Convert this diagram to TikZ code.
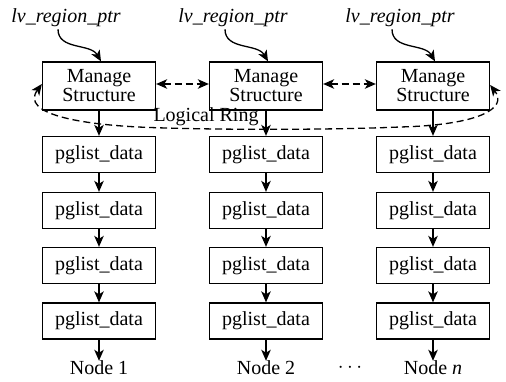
\documentclass[tikz,border=0pt]{standalone}
\usepackage{fontspec}
\setmainfont{Liberation Serif}
\usetikzlibrary{arrows.meta}
\begin{document}
\begin{tikzpicture}[x=1pt,y=-1pt,
  font=\fontsize{20}{22}\selectfont,
  box/.style={draw,line width=1.3pt,minimum width=113pt,inner sep=0pt,align=center},
  mgbox/.style={box,minimum height=48pt},
  pgbox/.style={box,minimum height=36pt},
  arr/.style={-{Stealth[length=11pt,width=9.5pt,inset=3pt]},line width=1.3pt},
  darr/.style={{Stealth[length=11pt,width=9.5pt,inset=3pt]}-{Stealth[length=11pt,width=9.5pt,inset=3pt]},line width=1.3pt,dash pattern=on 7pt off 4pt},
  lbl/.style={inner sep=0pt}]
\useasboundingbox (0,0) rectangle (506,382);
\foreach \i/\x/\lab in {1/99/1, 2/266/2, 3/433/\textit{n}}{
  \node[lbl] (lv\i) at (\x-33,18) {\textit{lv\_region\_ptr}};
  \node[mgbox] (m\i) at (\x,86) {Manage\\[-3pt]Structure};
  \node[pgbox] (p\i a) at (\x,154.5) {pglist\_data};
  \node[pgbox] (p\i b) at (\x,210.5) {pglist\_data};
  \node[pgbox] (p\i c) at (\x,265.5) {pglist\_data};
  \node[pgbox] (p\i d) at (\x,321) {pglist\_data};
  \node[lbl] (n\i) at (\x,368) {Node \lab};
  \draw[arr] ([xshift=-8pt,yshift=-2pt]lv\i.south) to[out=-90,in=120] ([xshift=2pt]m\i.north);
  \draw[arr] (m\i.south) -- (p\i a.north);
  \draw[arr] (p\i a.south) -- (p\i b.north);
  \draw[arr] (p\i b.south) -- (p\i c.north);
  \draw[arr] (p\i c.south) -- (p\i d.north);
  \draw[arr] (p\i d.south) -- (n\i.north);
}
\node[lbl] (dots) at (350,368) {$\cdots$};
\draw[darr] ([yshift=2pt]m1.east) -- ([yshift=2pt]m2.west);
\draw[darr] ([yshift=2pt]m2.east) -- ([yshift=2pt]m3.west);
\coordinate (r1) at (150,127.5);
\coordinate (r2) at (400,127);
\draw[darr] ([yshift=2pt]m1.west) .. controls (20,114) and (80,125) .. (r1)
  .. controls (220,130) and (330,130) .. (r2)
  .. controls (480,125) and (508,108) .. ([yshift=1pt]m3.east);
\node[lbl] (ring) at (206,117) {Logical Ring};
\end{tikzpicture}
\end{document}
